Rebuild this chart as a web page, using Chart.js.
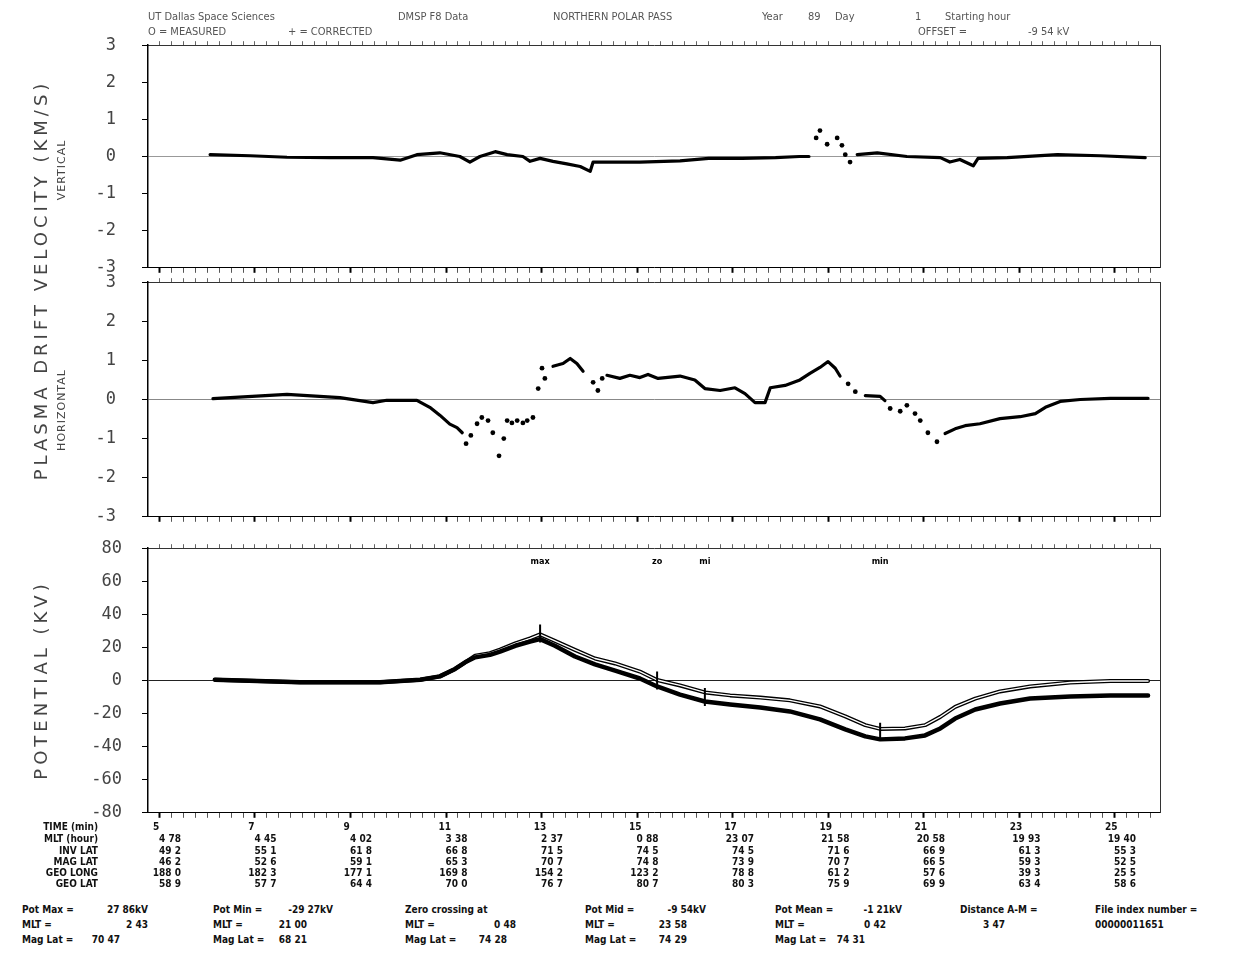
<!DOCTYPE html>
<html>
<head>
<meta charset="utf-8">
<script src="https://cdn.jsdelivr.net/npm/chart.js@4.4.1/dist/chart.umd.min.js"></script>
<style>
  body { margin: 0; background: #fff; }
  #page { position: relative; width: 1254px; height: 955px; overflow: hidden; background: #fff;
          font-family: "DejaVu Sans Condensed", "DejaVu Sans", sans-serif; color: #111; }
  canvas.panel { position: absolute; left: 0; }
  .t { position: absolute; white-space: pre; font-size: 10px; font-weight: bold; line-height: 12px; }
  .r { text-align: right; }
  .hdr { color: #555; font-weight: normal; font-size: 11px; }
  .vt { position: absolute; transform: translate(-50%, -50%) rotate(-90deg); white-space: nowrap;
        color: #444; font-family: "DejaVu Sans", sans-serif; }
</style>
</head>
<body>
<div id="page">
  <canvas id="velV" class="panel" width="1254" height="300"></canvas>
  <canvas id="velH" class="panel" width="1254" height="300"></canvas>
  <canvas id="pot" class="panel" width="1254" height="300"></canvas>
</div>
<script>
// DATA (time in minutes)
const vTimes = [6.06, 6.9, 7.67, 8.57, 9.47, 10.04, 10.39, 10.87, 11.29, 11.5, 11.71, 12.03, 12.28, 12.61, 12.76, 12.97, 13.24, 13.53, 13.81, 14.02, 14.08, 14.6, 15.06, 15.9, 16.5, 17.2, 17.9, 18.4, 18.6, 18.7, 19.61, 20.03, 20.65, 21.35, 21.55, 21.76, 22.04, 22.14, 22.75, 23.8, 24.7, 25.64];
const vValues = [0.05, 0.02, -0.02, -0.03, -0.03, -0.1, 0.05, 0.1, 0, -0.15, 0, 0.13, 0.05, 0, -0.13, -0.05, -0.13, -0.2, -0.27, -0.4, -0.15, -0.15, -0.15, -0.12, -0.05, -0.05, -0.03, 0, 0, null, 0.05, 0.1, 0, -0.03, -0.15, -0.08, -0.25, -0.05, -0.03, 0.05, 0.02, -0.03];
const vDotTimes = [18.75, 18.83, 18.98, 19.19, 19.29, 19.36, 19.46];
const vDotValues = [0.5, 0.7, 0.33, 0.5, 0.3, 0.05, -0.15];

const hTimes = [6.12, 7.67, 8.78, 9.47, 9.76, 10.39, 10.66, 10.87, 11.08, 11.23, 11.34, 11.38, 13.24, 13.45, 13.6, 13.74, 13.87, 13.95, 14.37, 14.64, 14.85, 15.06, 15.23, 15.44, 15.9, 16.21, 16.42, 16.74, 17.05, 17.26, 17.47, 17.68, 17.79, 18.1, 18.41, 18.62, 18.83, 19.0, 19.15, 19.25, 19.3, 19.78, 20.09, 20.19, 20.25, 21.45, 21.66, 21.87, 22.18, 22.6, 23.02, 23.34, 23.55, 23.86, 24.28, 24.91, 25.7];
const hValues = [0.02, 0.13, 0.05, -0.08, -0.02, -0.02, -0.2, -0.4, -0.63, -0.72, -0.85, null, 0.85, 0.92, 1.05, 0.92, 0.72, null, 0.62, 0.54, 0.62, 0.56, 0.64, 0.54, 0.6, 0.5, 0.28, 0.23, 0.3, 0.15, -0.08, -0.08, 0.3, 0.36, 0.5, 0.67, 0.82, 0.97, 0.8, 0.6, null, 0.1, 0.08, -0.03, null, -0.87, -0.75, -0.67, -0.62, -0.49, -0.44, -0.36, -0.2, -0.05, 0, 0.03, 0.03];
const hDotTimes = [11.42, 11.52, 11.65, 11.75, 11.88, 11.98, 12.11, 12.21, 12.28, 12.38, 12.49, 12.61, 12.7, 12.82, 12.93, 13.01, 13.07, 14.08, 14.18, 14.27, 19.42, 19.57, 20.3, 20.51, 20.65, 20.82, 20.93, 21.09, 21.28];
const hDotValues = [-1.13, -0.92, -0.62, -0.46, -0.54, -0.85, -1.44, -1.0, -0.54, -0.6, -0.54, -0.6, -0.54, -0.46, 0.28, 0.8, 0.54, 0.44, 0.23, 0.54, 0.4, 0.2, -0.23, -0.3, -0.15, -0.36, -0.54, -0.85, -1.08];

const potTimes = [6.16, 7.94, 9.62, 10.46, 10.87, 11.19, 11.4, 11.61, 11.92, 12.13, 12.45, 12.76, 12.97, 13.28, 13.7, 14.12, 14.54, 15.06, 15.42, 15.9, 16.42, 16.95, 17.58, 18.2, 18.83, 19.36, 19.78, 20.09, 20.61, 21.03, 21.35, 21.66, 22.08, 22.6, 23.23, 24.07, 24.91, 25.7];
const potCorrected = [0.5, -1, -1, 0.5, 2.5, 7, 11, 14, 15.5, 17.5, 21, 23.5, 25, 21, 14.5, 9.7, 6, 1.2, -3.6, -8.5, -12.7, -14.5, -16.3, -18.7, -23.5, -29.6, -33.8, -35.6, -35, -33.2, -29, -23, -17.5, -13.9, -10.9, -9.7, -9, -9];
const potMeasured = [0.5, -1, -1, 0.5, 2.5, 7, 11, 15, 16.5, 18.7, 22.5, 25.5, 27.86, 24, 18.5, 13.3, 10.3, 5.4, 0.3, -3, -7.2, -9, -10.3, -12, -15.7, -21.7, -27, -29.27, -29, -27, -22, -16, -11, -6.6, -3.6, -1.2, -0.3, -0.3];
const markTimes = [12.97, 15.42, 16.42, 20.09];
const markValues = [28.4, 0, -10, -31];
const markLabels = ["max", "zo", "mi", "min"];

const tableRows = ["TIME (min)", "MLT (hour)", "INV LAT", "MAG LAT", "GEO LONG", "GEO LAT"];
const tableTime = ["5", "7", "9", "11", "13", "15", "17", "19", "21", "23", "25"];
const tableMlt = ["4 78", "4 45", "4 02", "3 38", "2 37", "0 88", "23 07", "21 58", "20 58", "19 93", "19 40"];
const tableInvLat = ["49 2", "55 1", "61 8", "66 8", "71 5", "74 5", "74 5", "71 6", "66 9", "61 3", "55 3"];
const tableMagLat = ["46 2", "52 6", "59 1", "65 3", "70 7", "74 8", "73 9", "70 7", "66 5", "59 3", "52 5"];
const tableGeoLong = ["188 0", "182 3", "177 1", "169 8", "154 2", "123 2", "78 8", "61 2", "57 6", "39 3", "25 5"];
const tableGeoLat = ["58 9", "57 7", "64 4", "70 0", "76 7", "80 7", "80 3", "75 9", "69 9", "63 4", "58 6"];

const xMin = 4.76, xMax = 25.95;

// PAGE TEXT
const page = document.getElementById("page");
function addText(x, y, text, cls, width) {
  const d = document.createElement("div");
  d.className = "t " + (cls || "");
  d.textContent = text;
  if (width) { d.style.width = width + "px"; d.style.left = (x - width) + "px"; }
  else d.style.left = x + "px";
  d.style.top = (y - 6) + "px";
  page.appendChild(d);
}
function addVertical(x, y, text, size, spacing) {
  const d = document.createElement("div");
  d.className = "vt";
  d.textContent = text;
  d.style.left = x + "px";
  d.style.top = y + "px";
  d.style.fontSize = size + "px";
  d.style.letterSpacing = spacing + "px";
  page.appendChild(d);
}

// header
[[148, "UT Dallas Space Sciences"], [398, "DMSP F8 Data"], [553, "NORTHERN POLAR PASS"], [762, "Year"],
 [808, "89"], [835, "Day"], [915, "1"], [945, "Starting hour"]].forEach(h => addText(h[0], 17, h[1], "hdr"));
[[148, "O = MEASURED"], [288, "+ = CORRECTED"], [918, "OFFSET ="], [1028, "-9 54 kV"]].forEach(h => addText(h[0], 32, h[1], "hdr"));

// axis titles
addVertical(40, 280, "PLASMA DRIFT VELOCITY (KM/S)", 18, 4);
addVertical(61, 170, "VERTICAL", 11, 1);
addVertical(61, 410, "HORIZONTAL", 11, 1);
addVertical(40, 680, "POTENTIAL (KV)", 18, 4);

// table
const rowY = [827, 839, 851, 862, 873, 884];
const rowValues = [tableMlt, tableInvLat, tableMagLat, tableGeoLong, tableGeoLat];
tableRows.forEach((lab, r) => addText(98, rowY[r], lab, "r", 100));
tableTime.forEach((v, i) => addText(153 + i * 95.2, rowY[0], v));
rowValues.forEach((vals, r) => vals.forEach((v, i) => addText(181 + i * 95.5, rowY[r + 1], v, "r", 60)));

// footer
const footY = [910, 925, 940];
const footer = [
  [22, [["Pot Max =", "27 86kV", 148], ["MLT =", "2 43", 148], ["Mag Lat =", "70 47", 120]]],
  [213, [["Pot Min =", "-29 27kV", 333], ["MLT =", "21 00", 307], ["Mag Lat =", "68 21", 307]]],
  [405, [["Zero crossing at", "", 0], ["MLT =", "0 48", 516], ["Mag Lat =", "74 28", 507]]],
  [585, [["Pot Mid =", "-9 54kV", 706], ["MLT =", "23 58", 687], ["Mag Lat =", "74 29", 687]]],
  [775, [["Pot Mean =", "-1 21kV", 902], ["MLT =", "0 42", 886], ["Mag Lat =", "74 31", 865]]],
  [960, [["Distance A-M =", "", 0], ["", "3 47", 1005]]],
  [1095, [["File index number =", "", 0], ["00000011651", "", 0]]]
];
footer.forEach(col => col[1].forEach((row, r) => {
  if (row[0]) addText(col[0], footY[r], row[0]);
  if (row[1]) addText(row[2], footY[r], row[1], "r", 80);
}));

// CHARTS
Chart.defaults.animation = false;
Chart.defaults.plugins.legend.display = false;
Chart.defaults.plugins.tooltip.enabled = false;

const pts = (ts, vs) => ts.map((t, i) => ({ x: t, y: vs[i] }));
const isMajor = v => Math.abs(((v % 2) + 2) % 2 - 1) < 1e-6;

function frameScales(yMin, yMax, yStep, zeroColor, bottomDash, labelPad) {
  const xTicks = { display: false, stepSize: 0.25, includeBounds: false };
  return {
    x: {
      type: "linear", min: xMin, max: xMax,
      afterFit: s => { s.height = 7; },
      border: { color: "#000", width: 1, dash: bottomDash },
      grid: { drawOnChartArea: false, tickLength: 5,
              tickColor: c => isMajor(c.tick.value) ? "#000" : "#555",
              tickWidth: c => isMajor(c.tick.value) ? 2 : 1 },
      ticks: xTicks
    },
    x2: {
      type: "linear", position: "top", min: xMin, max: xMax,
      afterFit: s => { s.height = 7; },
      border: { color: "#333", width: 1, dash: [2, 3] },
      grid: { drawOnChartArea: false, tickLength: 4, tickColor: "#666" },
      ticks: xTicks
    },
    y: {
      min: yMin, max: yMax,
      afterFit: s => { s.width = 148; },
      border: { color: "#000", width: 1.5 },
      grid: { color: c => c.tick && c.tick.value === 0 ? zeroColor : "rgba(0,0,0,0)",
              lineWidth: 1, tickColor: "#000", tickLength: 6 },
      ticks: { stepSize: yStep, padding: labelPad, color: "#444",
               font: { family: "DejaVu Sans Mono", size: 17 } }
    },
    y2: {
      position: "right", min: yMin, max: yMax,
      afterFit: s => { s.width = 94; },
      border: { color: "#333", width: 1, dash: [2, 3] },
      grid: { drawOnChartArea: false, drawTicks: false },
      ticks: { display: false }
    }
  };
}

const lineSet = (data, width) => ({
  data, showLine: true, borderColor: "#000", borderWidth: width, pointRadius: 0,
  spanGaps: false, borderJoinStyle: "round", borderCapStyle: "round"
});
const dotSet = data => ({
  data, showLine: false, pointRadius: 2.4, pointBackgroundColor: "#000", pointBorderWidth: 0
});

// build a chart, then size and place its canvas so the plot area sits at [top, bottom]
function buildPanel(id, makeConfig, top, bottom) {
  const canvas = document.getElementById(id);
  let chart = new Chart(canvas, makeConfig());
  const offTop = chart.chartArea.top;
  const offBottom = canvas.height - chart.chartArea.bottom;
  chart.destroy();
  canvas.height = Math.round(offTop + (bottom - top) + offBottom);
  canvas.width = 1254;
  canvas.style.top = (top - offTop) + "px";
  chart = new Chart(canvas, makeConfig());
  return chart;
}

buildPanel("velV", () => ({
  type: "scatter",
  data: { datasets: [dotSet(pts(vDotTimes, vDotValues)), lineSet(pts(vTimes, vValues), 3.2)] },
  options: { responsive: false, maintainAspectRatio: false, layout: { padding: 0 },
             scales: frameScales(-3, 3, 1, "#999", [2, 3], 26) }
}), 45, 268);

buildPanel("velH", () => ({
  type: "scatter",
  data: { datasets: [dotSet(pts(hDotTimes, hDotValues)), lineSet(pts(hTimes, hValues), 3.2)] },
  options: { responsive: false, maintainAspectRatio: false, layout: { padding: 0 },
             scales: frameScales(-3, 3, 1, "#888", [2, 3], 26) }
}), 282, 517);

const markLabelPlugin = {
  id: "markLabels",
  afterDatasetsDraw(chart) {
    const { ctx, chartArea, scales } = chart;
    ctx.save();
    ctx.font = 'bold 9px "DejaVu Sans Condensed", "DejaVu Sans"';
    ctx.fillStyle = "#000";
    ctx.textAlign = "center";
    ctx.textBaseline = "middle";
    markTimes.forEach((t, i) => ctx.fillText(markLabels[i], scales.x.getPixelForValue(t), chartArea.top + 13));
    ctx.restore();
  }
};

buildPanel("pot", () => ({
  type: "scatter",
  data: {
    datasets: [
      { data: pts(markTimes, markValues), showLine: false, pointStyle: "line", rotation: 90,
        pointRadius: 9, pointBorderColor: "#000", pointBorderWidth: 2 },
      lineSet(pts(potTimes, potCorrected), 4.5),
      Object.assign(lineSet(pts(potTimes, potMeasured), 1.3), { borderColor: "#fff" }),
      lineSet(pts(potTimes, potMeasured), 4)
    ]
  },
  options: { responsive: false, maintainAspectRatio: false, layout: { padding: 0 },
             scales: frameScales(-80, 80, 20, "#222", [], 20) },
  plugins: [markLabelPlugin]
}), 548, 813);
</script>
</body>
</html>
